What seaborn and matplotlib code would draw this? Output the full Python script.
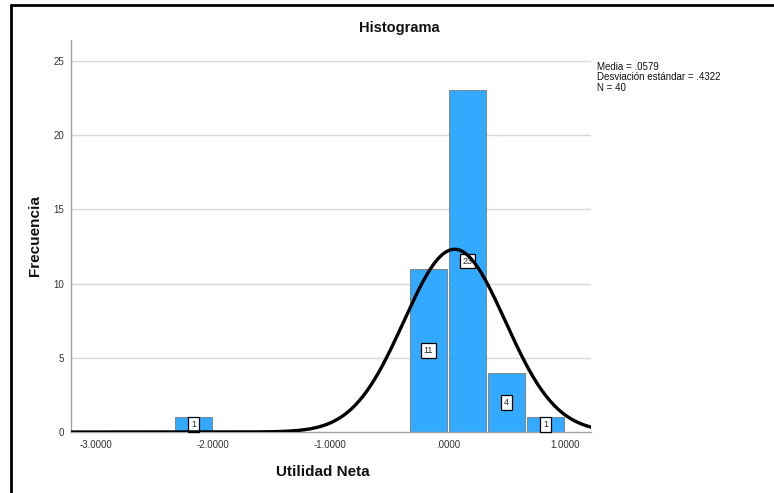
import numpy as np
import pandas as pd
import matplotlib
matplotlib.use("Agg")
import matplotlib.pyplot as plt
from matplotlib.lines import Line2D
import seaborn as sns

# histogram data
bin_edges = [-2.3333, -2.0, -1.6667, -1.3333, -1.0, -0.6667, -0.3333, 0.0, 0.3333, 0.6667, 1.0]
bin_counts = [1, 0, 0, 0, 0, 0, 11, 23, 4, 1]
x_ticks = [-3.0, -2.0, -1.0, 0.0, 1.0]
x_tick_labels = ["-3.0000", "-2.0000", "-1.0000", ".0000", "1.0000"]
y_ticks = [0, 5, 10, 15, 20, 25]

mean_val = 0.0579
std_val = 0.4322
n_obs = 40
stats_text = "Media = .0579\nDesviación estándar = .4322\nN = 40"

sns.set_theme(style="white")
plt.rcParams["font.family"] = ["Liberation Sans", "DejaVu Sans"]

bar_color = "#33AAFF"
grid_color = "#d9d9d9"
axis_color = "#a0a0a0"

fig = plt.figure(figsize=(7.74, 4.93), dpi=100)
ax = fig.add_axes([71 / 774, 61 / 493, 520 / 774, 392 / 493])

centers = [(a + b) / 2 for a, b in zip(bin_edges[:-1], bin_edges[1:])]
df = pd.DataFrame({"x": centers, "w": bin_counts})
sns.histplot(data=df, x="x", weights="w", bins=bin_edges, color=bar_color,
             alpha=1, edgecolor="#7a7a7a", linewidth=0.6, shrink=0.95, ax=ax, zorder=2)

# normal curve scaled to counts
xlim = (-3.21, 1.22)
bw = bin_edges[1] - bin_edges[0]
xs = np.linspace(xlim[0], xlim[1], 400)
ys = n_obs * bw * np.exp(-0.5 * ((xs - mean_val) / std_val) ** 2) / (std_val * np.sqrt(2 * np.pi))
sns.lineplot(x=xs, y=ys, color="black", linewidth=2.4, ax=ax, zorder=4)

# count labels in the middle of each bar (under the curve, as in the original)
for p, c in zip(ax.patches, bin_counts):
    if c == 0:
        continue
    ax.text(p.get_x() + p.get_width() / 2, c / 2, str(c), ha="center", va="center",
            fontsize=6.5, zorder=3,
            bbox=dict(boxstyle="square,pad=0.3", fc="white", ec="black", lw=0.9))

ax.set_xlim(*xlim)
ax.set_ylim(0, 26.4)
ax.set_xticks(x_ticks)
ax.set_xticklabels(x_tick_labels)
ax.set_yticks(y_ticks)
ax.tick_params(axis="both", length=0, labelsize=7, colors="#333333")
ax.tick_params(axis="x", pad=6)
ax.tick_params(axis="y", pad=5)
for yv in y_ticks[1:]:
    ax.axhline(yv, color=grid_color, lw=1, zorder=1)

for s in ["top", "right"]:
    ax.spines[s].set_visible(False)
for s in ["left", "bottom"]:
    ax.spines[s].set_color(axis_color)
    ax.spines[s].set_linewidth(1)

ax.set_xlabel("")
ax.set_ylabel("")
fig.text(323 / 774, 1 - 472 / 493, "Utilidad Neta", ha="center", va="center",
         fontsize=11, fontweight="bold", color="#111111")
fig.text(35 / 774, 1 - 236 / 493, "Frecuencia", ha="center", va="center", rotation=90,
         fontsize=11, fontweight="bold", color="#111111")
fig.text(399 / 774, 1 - 28 / 493, "Histograma", ha="center", va="center",
         fontsize=10.5, fontweight="bold", color="#111111")
fig.text(597 / 774, 1 - 62 / 493, stats_text, ha="left", va="top",
         fontsize=7, color="#111111", linespacing=1.05)

# frame border (left and top, as in the cropped original)
fig.add_artist(Line2D([11 / 774, 11 / 774], [0, 1 - 5 / 493], color="black", lw=2,
                      transform=fig.transFigure))
fig.add_artist(Line2D([11 / 774, 1], [1 - 5 / 493, 1 - 5 / 493], color="black", lw=2,
                      transform=fig.transFigure))

fig.savefig("out.png", dpi=100)
